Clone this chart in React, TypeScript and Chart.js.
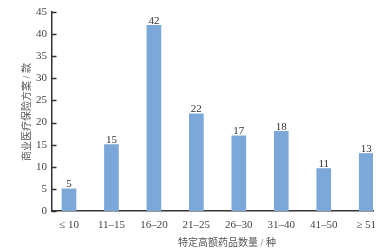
import React, { useEffect, useRef } from "react";
import { Chart, registerables } from "chart.js";

Chart.register(...registerables);

const categories = ["≤ 10", "11–15", "16–20", "21–25", "26–30", "31–40", "41–50", "≥ 51"];
const barHeights = [5, 15, 42, 22, 17, 18, 9.6, 13];
const valueLabels = ["5", "15", "42", "22", "17", "18", "11", "13"];
const yTicks = [0, 5, 10, 15, 20, 25, 30, 35, 40, 45];
const yTitle = "商业医疗保险方案 / 款";
const xTitle = "特定高额药品数量 / 种";

const FONT = "'Liberation Serif', 'Noto Sans CJK SC', serif";

const overlay = {
  id: "overlay",
  afterDraw(chart: any) {
    const ctx = chart.ctx;
    const y = chart.scales.y;
    const area = chart.chartArea;
    ctx.save();
    // inner tick marks
    ctx.strokeStyle = "#333";
    ctx.lineWidth = 1.5;
    yTicks.forEach((t) => {
      const py = Math.round(y.getPixelForValue(t)) + 0.5;
      ctx.beginPath();
      ctx.moveTo(area.left, py);
      ctx.lineTo(area.left + 4.5, py);
      ctx.stroke();
    });
    // value labels
    ctx.fillStyle = "#333";
    ctx.font = `11px ${FONT}`;
    ctx.textAlign = "center";
    ctx.textBaseline = "alphabetic";
    const meta = chart.getDatasetMeta(0);
    meta.data.forEach((bar: any, i: number) => {
      ctx.fillText(valueLabels[i], bar.x, bar.y - 1.5);
    });
    // titles
    ctx.fillStyle = "#555";
    ctx.font = `10px ${FONT}`;
    ctx.textBaseline = "middle";
    ctx.fillText(xTitle, 227, 243);
    ctx.translate(27, 112);
    ctx.rotate(-Math.PI / 2);
    ctx.fillText(yTitle, 0, 0);
    ctx.restore();
  },
};

export default function App() {
  const ref = useRef<HTMLCanvasElement | null>(null);
  useEffect(() => {
    document.body.style.margin = "0";
    const canvas = ref.current!;
    const chart = new Chart(canvas, {
      type: "bar",
      data: {
        datasets: [
          {
            data: barHeights.map((v, i) => ({ x: i, y: v })),
            backgroundColor: "#7ba7d9",
            barThickness: 14,
          },
        ],
      },
      options: {
        animation: false,
        responsive: false,
        devicePixelRatio: 1,
        layout: { padding: { top: 12, right: 12, left: 0, bottom: 0 } },
        plugins: { legend: { display: false }, tooltip: { enabled: false } },
        scales: {
          x: {
            type: "linear",
            offset: false,
            min: -0.4,
            max: 7.16,
            grid: { display: false, drawTicks: false, offset: false },
            border: { display: true, color: "#333", width: 1.5 },
            afterBuildTicks: (s: any) => {
              s.ticks = categories.map((_, i) => ({ value: i }));
            },
            afterFit: (s: any) => {
              s.height = 40;
            },
            ticks: {
              autoSkip: false,
              maxRotation: 0,
              padding: 8,
              color: "#444",
              font: { family: FONT, size: 11 },
              callback: (v: any) => categories[v as number] ?? "",
            },
          },
          y: {
            min: 0,
            max: 45,
            grid: { display: false, drawTicks: false },
            border: { display: true, color: "#333", width: 1.5 },
            afterBuildTicks: (s: any) => {
              s.ticks = yTicks.map((v) => ({ value: v }));
            },
            afterFit: (s: any) => {
              s.width = 52;
            },
            ticks: {
              padding: 5,
              color: "#444",
              font: { family: FONT, size: 11 },
            },
          },
        },
      },
      plugins: [overlay],
    });
    return () => chart.destroy();
  }, []);
  return (
    <div style={{ width: 385, height: 251 }}>
      <canvas ref={ref} width={385} height={251} style={{ display: "block" }} />
    </div>
  );
}
